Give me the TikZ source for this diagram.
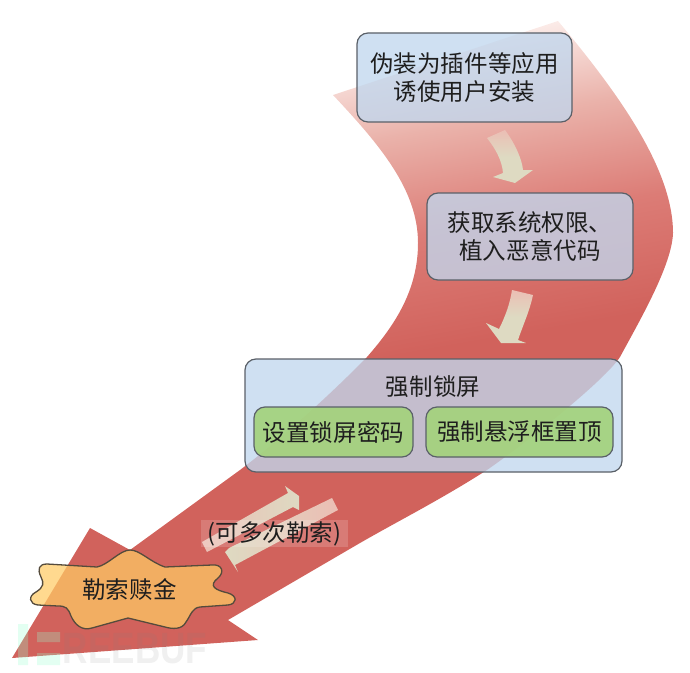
\documentclass[tikz,border=0pt]{standalone}
\usepackage{fontspec}
\setmainfont{Noto Sans CJK SC}
\newfontfamily\wmfont{Liberation Sans}
\usetikzlibrary{calc}
\definecolor{boxblue}{RGB}{193,215,238}
\definecolor{boxedge}{RGB}{90,96,104}
\definecolor{greenbox}{RGB}{164,210,124}
\definecolor{redtop}{RGB}{252,238,235}
\definecolor{redpale}{RGB}{234,178,170}
\definecolor{redsoft}{RGB}{220,124,118}
\definecolor{redmid}{RGB}{209,98,92}
\definecolor{starfill}{RGB}{255,203,101}
\definecolor{starline}{RGB}{85,75,60}
\definecolor{inkdark}{RGB}{30,30,30}
\definecolor{arrowhead}{RGB}{222,218,194}
\definecolor{arrowtail}{RGB}{235,190,180}
\pgfdeclareverticalshading{bigsweep}{100bp}{color(0bp)=(redmid); color(48bp)=(redmid); color(57bp)=(redsoft); color(65bp)=(redpale); color(72bp)=(redtop); color(100bp)=(redtop)}
\tikzset{
  x=1bp,y=-1bp,
  cntext/.style={font=\fontsize{23.6}{28}\selectfont,text=inkdark,align=center,inner sep=0pt},
  panel/.style={cntext,draw=boxedge,line width=1.2bp,rounded corners=11bp,fill=boxblue,fill opacity=.78,text opacity=1,draw opacity=1},
  greenpanel/.style={cntext,draw=boxedge,line width=1.2bp,rounded corners=11bp,fill=greenbox,fill opacity=.92,text opacity=1,draw opacity=1},
}
\begin{document}
\begin{tikzpicture}
\useasboundingbox (0,0) rectangle (690,673);
% big sweeping arrow
\path[shading=bigsweep,shading angle=10]
  (333,95) -- (558,21)
  .. controls (620,95) and (673,170) .. (673,233)
  .. controls (672,265) and (640,320) .. (620,357)
  .. controls (605,380) and (530,440) .. (487,470)
  .. controls (440,500) and (400,520) .. (360,543)
  -- (228,620) -- (258,640) -- (12,658) -- (90,528) -- (130,550)
  -- (240,470)
  .. controls (280,440) and (330,395) .. (367,357)
  .. controls (395,325) and (418,290) .. (418,243)
  .. controls (418,190) and (380,145) .. (333,95)
  -- cycle;
% down arrows
\path[top color=arrowtail,bottom color=arrowhead,middle color=arrowhead]
  (487,138) -- (505,130) .. controls (516,145) and (522,160) .. (523,170) -- (533,170) -- (515,183) -- (493,177) -- (503,173) .. controls (502,160) and (495,148) .. (487,138) -- cycle;
\path[top color=arrowtail,bottom color=arrowhead,middle color=arrowhead]
  (512,290) -- (533,295) .. controls (530,310) and (523,325) .. (518,340) -- (526,343) -- (501,343) -- (486,323) -- (499,329) .. controls (506,315) and (510,303) .. (512,290) -- cycle;
% return arrows
\path[left color=arrowtail,right color=arrowhead]
  (202,542) -- (288,493) -- (285,486) -- (299,496) -- (299,510) -- (293,507) -- (207,552) -- cycle;
\path[right color=arrowtail,left color=arrowhead]
  (332,498) -- (229,548) -- (225,552) -- (238,572) -- (235,565) -- (338,510) -- cycle;
% text boxes
\node[panel,minimum width=215bp,minimum height=89bp] (install) at (464.5,77.5) {伪装为插件等应用\\诱使用户安装};
\node[panel,minimum width=206bp,minimum height=87bp] (root) at (530,236.5) {获取系统权限、\\植入恶意代码};
\node[panel,minimum width=377bp,minimum height=113bp] (lock) at (433.5,415.5) {};
\node[cntext] (locktitle) at (433,387) {强制锁屏};
\node[greenpanel,minimum width=159bp,minimum height=50bp] (pwd) at (333.5,432) {设置锁屏密码};
\node[greenpanel,minimum width=187bp,minimum height=50bp] (float) at (519.5,432) {强制悬浮框置顶};
% repeat label
\node[cntext,fill=white,fill opacity=.16,text opacity=1,minimum width=147bp,minimum height=27bp] (again) at (274.5,533.5) {(可多次勒索)};
% ransom star
\path[fill=starfill,fill opacity=.73,draw=starline,draw opacity=1,line width=1.3bp]
  (130,550) .. controls (140,550) and (150,562) .. (165,567) -- (212,565)
  .. controls (222,564) and (225,572) .. (218,578)
  .. controls (208,586) and (215,590) .. (228,593)
  .. controls (238,596) and (237,604) .. (228,605) -- (200,607)
  .. controls (192,608) and (191,615) .. (186,622)
  .. controls (182,630) and (172,629) .. (165,627) -- (128,618) -- (92,628)
  .. controls (82,631) and (75,625) .. (71,616)
  .. controls (68,608) and (66,606) .. (58,606) -- (38,605)
  .. controls (29,604) and (28,596) .. (36,592)
  .. controls (44,587) and (44,583) .. (41,577)
  .. controls (37,569) and (39,564) .. (47,564) -- (97,567)
  .. controls (108,565) and (120,550) .. (130,550) -- cycle;
\node[cntext] (ransom) at (129.5,589) {勒索赎金};
% watermark
\fill[green!45!cyan!40!white,opacity=.28] (18,624) rectangle (28,665) (37,632) rectangle (60,642) (37,653) rectangle (60,665);
\node[font=\wmfont\bfseries\fontsize{44}{44}\selectfont,text=gray,opacity=.12,xscale=.8,inner sep=0pt] (mark) at (135,649) {REEBUF};
\end{tikzpicture}
\end{document}
